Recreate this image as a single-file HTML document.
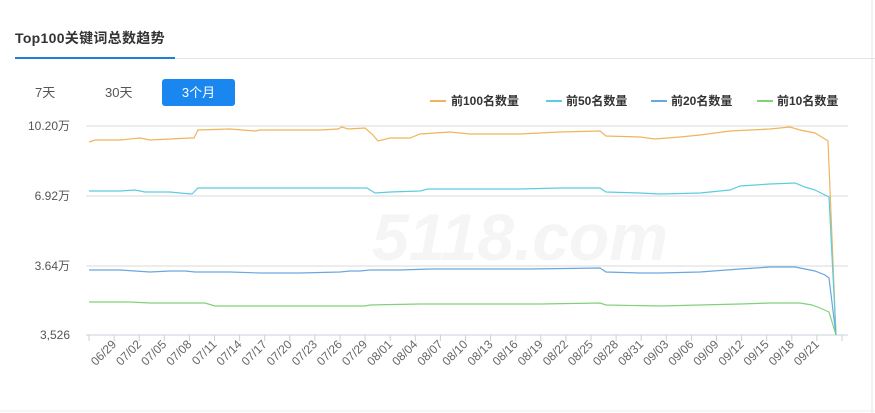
<!DOCTYPE html>
<html><head><meta charset="utf-8"><style>
body{margin:0;width:875px;height:413px;background:#fff;font-family:"Liberation Sans","Noto Sans CJK SC",sans-serif;overflow:hidden;position:relative}
.t{position:absolute;left:15px;top:28px;font-size:14px;font-weight:bold;color:#333;letter-spacing:0.3px}
.ul{position:absolute;left:15px;top:57px;width:160px;height:2px;background:#1e7fd8}
.ln{position:absolute;left:15px;top:58px;width:860px;height:1px;background:#e4e4e4}
.b{position:absolute;top:79px;height:27px;line-height:27px;font-size:13px;color:#555}
.on{background:#1a86f0;color:#fff;border-radius:3px;text-align:center;width:73px;left:162px}
</style></head><body>
<div class="t">Top100关键词总数趋势</div><div class="ln"></div><div class="ul"></div>
<div class="b" style="left:35px">7天</div><div class="b" style="left:105px">30天</div><div class="b on">3个月</div>
<svg width="875" height="413" style="position:absolute;left:0;top:0" font-family="Liberation Sans,Noto Sans CJK SC,sans-serif">
<text x="520" y="260" font-size="66" font-style="italic" font-weight="bold" fill="#f5f5f5" text-anchor="middle">5118.com</text>
<line x1="872" y1="0" x2="872" y2="413" stroke="#e6e6e6"/>
<line x1="0" y1="411" x2="875" y2="411" stroke="#eee"/>
<g stroke="#d8d8d8"><line x1="86" y1="126" x2="848" y2="126"/><line x1="86" y1="196" x2="848" y2="196"/><line x1="86" y1="266" x2="848" y2="266"/><line x1="86" y1="335" x2="848" y2="335" stroke="#c8d0dc"/></g>
<g font-size="12" fill="#555" text-anchor="end"><text x="70" y="130">10.20万</text><text x="70" y="200">6.92万</text><text x="70" y="270">3.64万</text><text x="70" y="339">3,526</text></g>
<g id="ticks" stroke="#c8d0dc"></g>
<g id="lbl" font-size="12" fill="#666"></g>
<g font-size="12" font-weight="bold" fill="#333">
<line x1="430" y1="101" x2="446" y2="101" stroke="#f0b45c" stroke-width="2"/><text x="451" y="105">前100名数量</text>
<line x1="546" y1="101" x2="562" y2="101" stroke="#5ccde0" stroke-width="2"/><text x="566" y="105">前50名数量</text>
<line x1="651" y1="101" x2="667" y2="101" stroke="#6aa6e0" stroke-width="2"/><text x="671" y="105">前20名数量</text>
<line x1="757" y1="101" x2="773" y2="101" stroke="#82d07a" stroke-width="2"/><text x="777" y="105">前10名数量</text></g>
<g fill="none" stroke-width="1.2">
<polyline stroke="#f0b45c" points="89,142 95,140 120,140 140,138 150,140 170,139 190,138 194,138 198,130 230,129 255,131 260,130 300,130 320,130 338,129 342,127 348,129 365,128 372,134 378,141 390,138 410,138 420,134 450,132 470,134 490,134 520,134 560,132 600,131 606,136 640,137 655,139 680,137 700,135 730,131 770,129 790,127 800,130 815,133 825,139 828,141 836,335"/>
<polyline stroke="#5ccde0" points="89,191 120,191 135,190 145,192 170,192 180,193 192,194 198,188 250,188 280,188 300,188 350,188 367,188 375,193 390,192 420,191 428,189 470,189 520,189 560,188 600,188 606,192 640,193 660,194 700,193 730,190 740,186 770,184 795,183 805,187 815,190 825,195 829,197 836,335"/>
<polyline stroke="#6aa6e0" points="89,270 120,270 135,271 150,272 170,271 185,271 195,272 230,272 260,273 300,273 340,272 350,271 360,271 370,270 400,270 430,269 470,269 530,269 600,268 606,272 640,273 660,273 700,272 740,269 770,267 795,267 805,269 815,271 825,275 829,278 836,335"/>
<polyline stroke="#82d07a" points="89,302 130,302 150,303 205,303 215,306 260,306 300,306 365,306 370,305 420,304 480,304 540,304 600,303 606,305 660,306 700,305 740,304 770,303 800,303 812,305 820,308 829,312 836,335"/>
</g>
</svg>
<script>
var t=document.getElementById('ticks'),l=document.getElementById('lbl'),s='';var ls='';
var names=["06/29","07/02","07/05","07/08","07/11","07/14","07/17","07/20","07/23","07/26","07/29","08/01","08/04","08/07","08/10","08/13","08/16","08/19","08/22","08/25","08/28","08/31","09/03","09/06","09/09","09/12","09/15","09/18","09/21"];
for(var i=0;i<31;i++){var x=89+i*25.1;s+='<line x1="'+x+'" y1="335" x2="'+x+'" y2="341"/>';}
t.innerHTML=s;
for(var i=0;i<names.length;i++){var x=114+i*25.1+3;ls+='<text transform="translate('+x+',345) rotate(-45)" text-anchor="end">'+names[i]+'</text>';}
l.innerHTML=ls;
</script>
</body></html>
